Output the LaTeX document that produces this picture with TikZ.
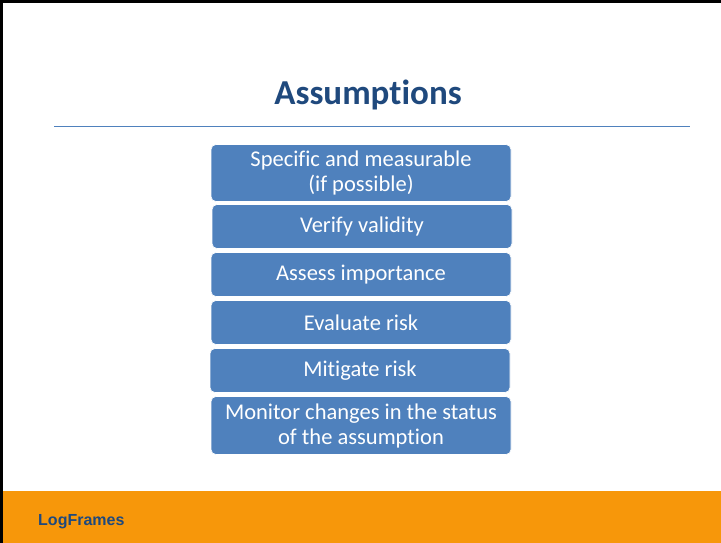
\documentclass[tikz,border=0pt]{standalone}
\usepackage{fontspec}
\setmainfont[Ligatures=CommonOff]{Carlito}
\newfontfamily\footfont{Liberation Sans}
\usepackage{xcolor}
\usepackage{tikz}
\usetikzlibrary{shapes.geometric}
\definecolor{boxblue}{HTML}{4F81BD}
\definecolor{titleblue}{HTML}{1F497D}
\definecolor{bandorange}{HTML}{F7970A}

\begin{document}
\begin{tikzpicture}[x=1pt,y=-1pt,
    stepbox/.style={rectangle,rounded corners=5pt,fill=boxblue,draw=white,
        line width=0.6pt,minimum width=300pt,text=white,align=center,
        font=\fontsize{22.5}{25}\selectfont,inner sep=0pt}]
\useasboundingbox (0,0) rectangle (721,543);
\fill[white] (0,0) rectangle (721,543);
\fill[bandorange] (3,491) rectangle (721,543);
\draw[line width=3pt] (1.5,543) -- (1.5,1.5) -- (721,1.5);

\node[font=\bfseries\fontsize{35}{40}\selectfont,text=titleblue,anchor=base] at (368,105) (title) {Assumptions};
\draw[boxblue,line width=0.8pt] (54,126) -- (690,126);

\node[stepbox,minimum height=57pt] at (361,173) (spec) {Specific and measurable\\(if possible)};
\node[stepbox,minimum height=44pt] at (362,226.5) (verify) {Verify validity};
\node[stepbox,minimum height=44pt] at (361,274.5) (assess) {Assess importance};
\node[stepbox,minimum height=44pt] at (361,322.5) (eval) {Evaluate risk};
\node[stepbox,minimum height=44pt] at (360,370.5) (mitig) {Mitigate risk};
\node[stepbox,minimum height=58pt] at (361,425.5) (monit) {Monitor changes in the status\\of the assumption};

\node[anchor=base west,inner sep=0pt,font=\footfont\bfseries\fontsize{16}{18}\selectfont,text=titleblue] at (38,525) (foot) {LogFrames};
\end{tikzpicture}
\end{document}
